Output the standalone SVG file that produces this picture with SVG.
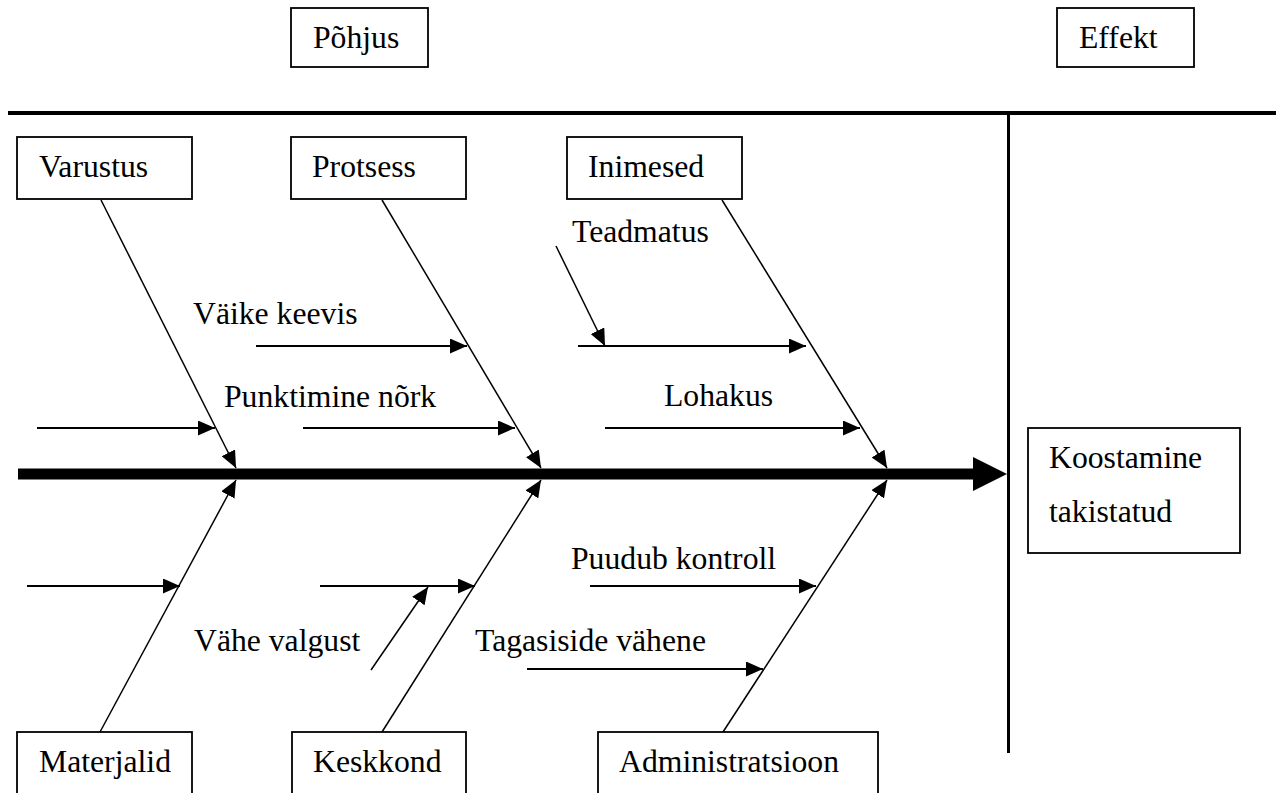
<svg xmlns="http://www.w3.org/2000/svg" width="1280" height="793" viewBox="0 0 1280 793">
<style>
text{font-family:"Liberation Serif","Times New Roman",serif;font-size:31.7px;fill:#000}
.box{fill:#fff;stroke:#000;stroke-width:1.8}
.bone{stroke:#000;stroke-width:1.5;fill:none}
.sub{stroke:#000;stroke-width:2;fill:none}
</style>
<defs>
<marker id="ah" viewBox="0 0 17 15" refX="17" refY="7.5" markerWidth="17" markerHeight="15" markerUnits="userSpaceOnUse" orient="auto">
<path d="M0,0 L17,7.5 L0,15 z" fill="#000"/>
</marker>
</defs>
<rect width="1280" height="793" fill="#fff"/>
<g id="frame">
<line x1="8" y1="113" x2="1276" y2="113" stroke="#000" stroke-width="4"/>
<line x1="1008.5" y1="113" x2="1008.5" y2="753" stroke="#000" stroke-width="3"/>
</g>
<g id="connectors">
<line x1="18" y1="474" x2="976" y2="474" stroke="#000" stroke-width="11"/>
<polygon points="973,457 1007,474 973,491" fill="#000"/>
<line class="bone" x1="101" y1="200" x2="236" y2="468" marker-end="url(#ah)"/>
<line class="bone" x1="382" y1="200" x2="541" y2="468" marker-end="url(#ah)"/>
<line class="bone" x1="722" y1="200" x2="887" y2="468" marker-end="url(#ah)"/>
<line class="bone" x1="100" y1="732" x2="236" y2="480" marker-end="url(#ah)"/>
<line class="bone" x1="382" y1="732" x2="541" y2="480" marker-end="url(#ah)"/>
<line class="bone" x1="723" y1="732" x2="887" y2="480" marker-end="url(#ah)"/>
<line class="sub" x1="37" y1="428" x2="215" y2="428" marker-end="url(#ah)"/>
<line class="sub" x1="256" y1="346" x2="467" y2="346" marker-end="url(#ah)"/>
<line class="sub" x1="303" y1="428" x2="515" y2="428" marker-end="url(#ah)"/>
<line class="sub" x1="578" y1="346" x2="806" y2="346" marker-end="url(#ah)"/>
<line class="bone" x1="556" y1="246" x2="605" y2="346" marker-end="url(#ah)"/>
<line class="sub" x1="605" y1="428" x2="860" y2="428" marker-end="url(#ah)"/>
<line class="sub" x1="27" y1="586" x2="180" y2="586" marker-end="url(#ah)"/>
<line class="sub" x1="320" y1="586" x2="475" y2="586" marker-end="url(#ah)"/>
<line class="bone" x1="371" y1="670" x2="428" y2="587" marker-end="url(#ah)"/>
<line class="sub" x1="590" y1="586" x2="816" y2="586" marker-end="url(#ah)"/>
<line class="sub" x1="527" y1="669" x2="763" y2="669" marker-end="url(#ah)"/>
</g>
<g id="pohjus"><rect class="box" x="291" y="8" width="137" height="59"/><text x="313" y="48">Põhjus</text></g>
<g id="effekt"><rect class="box" x="1057" y="8" width="137" height="59"/><text x="1079" y="48">Effekt</text></g>
<g id="varustus"><rect class="box" x="17" y="137" width="175" height="62"/><text x="39" y="177">Varustus</text></g>
<g id="protsess"><rect class="box" x="291" y="137" width="175" height="62"/><text x="312" y="177">Protsess</text></g>
<g id="inimesed"><rect class="box" x="567" y="137" width="175" height="62"/><text x="588" y="177">Inimesed</text></g>
<g id="materjalid"><rect class="box" x="17" y="732" width="175" height="70"/><text x="39" y="772">Materjalid</text></g>
<g id="keskkond"><rect class="box" x="292" y="732" width="174" height="70"/><text x="313" y="772">Keskkond</text></g>
<g id="administratsioon"><rect class="box" x="598" y="732" width="280" height="70"/><text x="619" y="772">Administratsioon</text></g>
<g id="koostamine"><rect class="box" x="1028" y="428" width="212" height="125"/><text x="1049" y="468">Koostamine</text><text x="1049" y="522">takistatud</text></g>
<g id="labels">
<text x="572" y="242">Teadmatus</text>
<text x="193" y="324">Väike keevis</text>
<text x="224" y="407">Punktimine nõrk</text>
<text x="664" y="406">Lohakus</text>
<text x="571" y="569">Puudub kontroll</text>
<text x="194" y="651">Vähe valgust</text>
<text x="475" y="651">Tagasiside vähene</text>
</g>
</svg>
